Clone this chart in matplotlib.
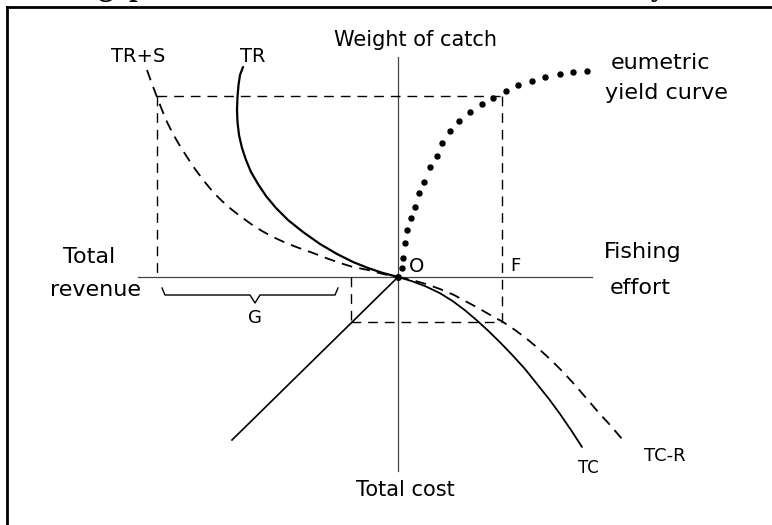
import matplotlib
matplotlib.use("Agg")
import matplotlib.pyplot as plt

# Diagram units: origin O is where the axes cross, x = fishing effort
# (right) / total revenue (left), y = weight of catch (up) / total cost (down)

# total revenue curve (solid, upper left quadrant)
tr_x = [-1.55, -1.58, -1.595, -1.605, -1.61, -1.605, -1.59, -1.56, -1.52, -1.47, -1.40,
        -1.32, -1.22, -1.10, -0.95, -0.78, -0.61, -0.45, -0.30, -0.15, 0.0]
tr_y = [2.10, 2.02, 1.92, 1.80, 1.67, 1.55, 1.42, 1.29, 1.17, 1.05, 0.93,
        0.81, 0.69, 0.57, 0.45, 0.33, 0.23, 0.15, 0.09, 0.04, 0.0]

# total revenue + subsidy (dashed)
trs_x = [-2.51, -2.46, -2.41, -2.36, -2.31, -2.25, -2.18, -2.11, -2.03, -1.94, -1.85, -1.76, -1.67,
         -1.58, -1.47, -1.36, -1.25, -1.12, -0.99, -0.85, -0.72, -0.58, -0.45, -0.30, -0.15, 0.0]
trs_y = [2.07, 1.93, 1.80, 1.67, 1.55, 1.43, 1.31, 1.20, 1.08, 0.96, 0.85, 0.76, 0.68,
         0.61, 0.53, 0.46, 0.40, 0.34, 0.29, 0.24, 0.19, 0.14, 0.10, 0.07, 0.03, 0.0]

# total cost curve (solid, lower right quadrant)
tc_x = [0.0, 0.14, 0.28, 0.42, 0.55, 0.67, 0.79, 0.91, 1.03, 1.15, 1.27, 1.39, 1.51, 1.62, 1.73, 1.84]
tc_y = [0.0, -0.042, -0.095, -0.162, -0.243, -0.333, -0.435, -0.545, -0.663, -0.788, -0.92,
        -1.07, -1.22, -1.37, -1.53, -1.70]

# total cost minus revenue (dashed)
tcr_x = [0.0, 0.14, 0.28, 0.42, 0.56, 0.69, 0.82, 0.94, 1.05, 1.17, 1.29, 1.41, 1.53, 1.65,
         1.77, 1.89, 2.01, 2.13, 2.24]
tcr_y = [0.0, -0.03, -0.07, -0.12, -0.18, -0.25, -0.32, -0.39, -0.45, -0.53, -0.62, -0.72, -0.83, -0.95,
         -1.08, -1.22, -1.36, -1.49, -1.62]

# straight transfer line, lower left quadrant
ray_x = [0.0, -1.66]
ray_y = [0.0, -1.63]

# eumetric yield curve (dotted)
yield_x = [0.04, 0.05, 0.07, 0.09, 0.13, 0.17, 0.21, 0.26, 0.32, 0.39, 0.44, 0.52, 0.61, 0.72,
           0.84, 0.95, 1.08, 1.20, 1.34, 1.47, 1.62, 1.75, 1.89]
yield_y = [0.09, 0.19, 0.34, 0.47, 0.59, 0.70, 0.84, 0.95, 1.10, 1.21, 1.34, 1.46, 1.56, 1.65,
           1.73, 1.79, 1.86, 1.92, 1.96, 2.00, 2.03, 2.05, 2.06]

# key levels for the guide rectangle
catch_level = 1.81
revenue_x = -2.41
effort_F = 1.04
cost_level = -0.45
cost_x = -0.47


def main():
    fig = plt.figure(figsize=(7.72, 5.25), dpi=100)
    ax = fig.add_axes([0, 0, 1, 1])
    ax.set_xlim(-3.98, 3.74)
    ax.set_ylim(-2.48, 2.77)
    ax.axis("off")

    font = "DejaVu Sans"

    # axes through O
    ax.plot([-2.60, 1.94], [0, 0], color="#444444", lw=0.9)
    ax.plot([0, 0], [2.20, -1.94], color="#444444", lw=0.9)

    # dashed guide rectangle
    guide = dict(color="black", lw=1.0, linestyle=(0, (7, 5)))
    ax.plot([revenue_x, effort_F], [catch_level, catch_level], **guide)
    ax.plot([revenue_x, revenue_x], [catch_level, 0], **guide)
    ax.plot([effort_F, effort_F], [catch_level, cost_level], **guide)
    ax.plot([cost_x, effort_F], [cost_level, cost_level], **guide)
    ax.plot([cost_x, cost_x], [0, cost_level], **guide)

    # curves
    ax.plot(tr_x, tr_y, color="black", lw=1.6, solid_capstyle="round", solid_joinstyle="round")
    ax.plot(tc_x, tc_y, color="black", lw=1.3, solid_capstyle="round", solid_joinstyle="round")
    ax.plot(trs_x, trs_y, color="black", lw=1.3, linestyle=(0, (6, 4)))
    ax.plot(tcr_x, tcr_y, color="black", lw=1.3, linestyle=(0, (6, 4)))
    ax.plot(ray_x, ray_y, color="black", lw=1.2)
    ax.plot(yield_x, yield_y, linestyle="none", marker="o", ms=3.6, color="black")
    ax.plot([0], [0], marker="o", ms=4, color="black")

    # brace under the revenue axis marking G
    ax.plot([-2.36, -2.33, -1.48, -1.43, -1.38, -0.63, -0.60],
            [-0.11, -0.18, -0.18, -0.26, -0.18, -0.18, -0.11], color="black", lw=1.0)

    # labels
    lab = dict(family=font, color="black", ha="center", va="center")
    ax.text(0.18, 2.37, "Weight of catch", fontsize=15, **lab)
    ax.text(-2.60, 2.21, "TR+S", fontsize=14, **lab)
    ax.text(-1.45, 2.21, "TR", fontsize=14, **lab)
    ax.text(2.63, 2.14, "eumetric", fontsize=16, **lab)
    ax.text(2.68, 1.84, "yield curve", fontsize=16, **lab)
    ax.text(2.45, 0.25, "Fishing", fontsize=16, **lab)
    ax.text(2.42, -0.11, "effort", fontsize=16, **lab)
    ax.text(0.19, 0.11, "O", fontsize=14, **lab)
    ax.text(1.17, 0.11, "F", fontsize=13, **lab)
    ax.text(-3.09, 0.20, "Total", fontsize=16, **lab)
    ax.text(-3.03, -0.13, "revenue", fontsize=16, **lab)
    ax.text(-1.43, -0.41, "G", fontsize=13, **lab)
    ax.text(1.90, -1.91, "TC", fontsize=12, **lab)
    ax.text(2.67, -1.79, "TC-R", fontsize=13, **lab)
    ax.text(0.07, -2.13, "Total cost", fontsize=15, **lab)

    # page title, cut off by the top of the crop
    ax.text(-3.58, 2.815, "The gap between revenue and cost in the fishery",
            family="Liberation Serif", fontweight="bold", fontsize=22,
            ha="left", va="baseline", clip_on=False)

    # frame of the figure box
    ax.plot([0.0097, 1.0], [0.9876, 0.9876], transform=ax.transAxes, color="black", lw=2.0, clip_on=False)
    ax.plot([0.0097, 0.0097], [0.0, 0.9876], transform=ax.transAxes, color="black", lw=2.0, clip_on=False)

    fig.savefig("out.png", dpi=100, facecolor="white")
    plt.close(fig)


if __name__ == "__main__":
    main()
